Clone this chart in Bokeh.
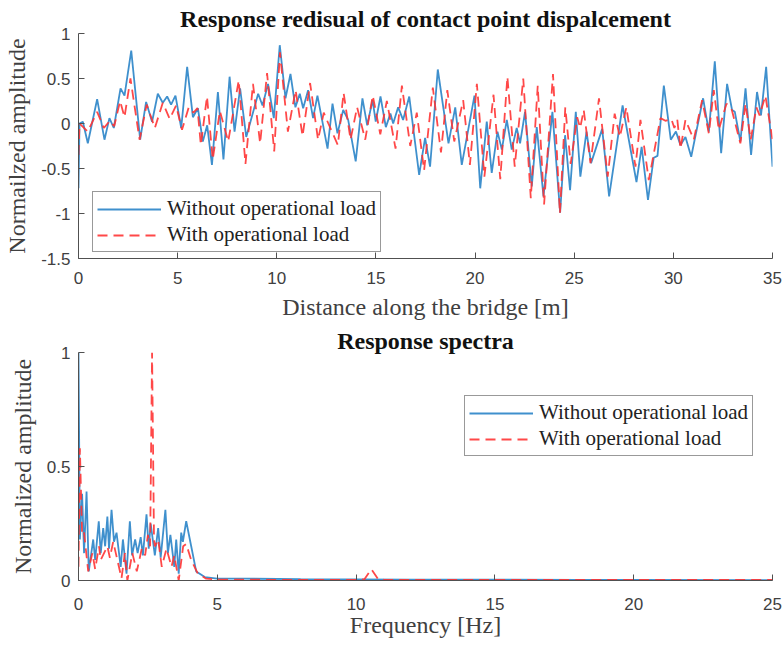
from bokeh.plotting import figure
from bokeh.layouts import column
from bokeh.models import Range1d, FixedTicker
from bokeh.embed import file_html
from bokeh.resources import INLINE

# ---------------- data: response residual (top) ----------------
dist_blue = [0, 0.05, 0.22, 0.47, 0.94, 1.31, 1.56, 1.78, 2.12, 2.32, 2.66, 3.11, 3.41, 3.71, 4.0, 4.25,
             4.47, 4.67, 4.89, 5.18, 5.48, 5.77, 6.02, 6.27, 6.49, 6.73, 7.03, 7.31, 7.62, 7.87, 8.15, 8.46,
             9.06, 9.28, 9.56, 9.85, 10.15, 10.44, 10.69, 10.94, 11.16, 11.33, 11.58, 11.83, 12.05, 12.56,
             12.81, 13.06, 13.35, 13.6, 13.98, 14.32, 14.56, 14.83, 14.99, 15.23, 15.5, 15.73, 15.87, 16.12,
             16.37, 16.68, 17.18, 17.48, 17.73, 18.12, 18.66, 19.0, 19.33, 19.97, 20.26, 20.59, 20.84, 21.13,
             21.35, 21.6, 21.85, 22.1, 22.27, 22.52, 22.86, 23.11, 23.45, 23.9, 24.29, 24.54, 24.79, 25.08,
             25.31, 25.62, 25.85, 26.41, 26.76, 27.44, 28.14, 28.4, 28.72, 29.01, 29.2, 29.52, 29.87, 30.13,
             30.36, 30.61, 30.9, 31.5, 31.79, 32.09, 32.41, 32.71, 32.96, 33.1, 33.38, 33.64, 33.92, 34.22,
             34.42, 34.68, 35.0]
resid_blue = [-0.72, 0.0, 0.02, -0.22, 0.27, -0.18, 0.06, -0.05, 0.39, 0.31, 0.81, -0.18, 0.24, 0.02, 0.33, 0.23,
              0.30, 0.21, 0.31, -0.05, 0.63, 0.07, 0.17, -0.20, -0.02, -0.46, 0.35, -0.40, 0.52, -0.09, 0.39, -0.15,
              0.33, 0.20, 0.44, 0.06, 0.87, 0.28, 0.55, 0.18, 0.33, 0.17, 0.37, 0.06, 0.31, -0.28,
              0.22, -0.11, 0.15, 0.04, -0.42, 0.28, -0.02, 0.26, 0.02, 0.30, -0.04, 0.11, 0.0, 0.18,
              0.04, 0.30, -0.57, -0.16, -0.48, 0.60, -0.22, 0.18, -0.46, 0.31, -0.72, 0.02, -0.55, -0.09,
              -0.29, 0.04, -0.29, -0.05, -0.22, 0.13, -0.70, -0.04, -0.81, 0.13, -0.99, -0.13, -0.74, 0.13,
              -0.59, -0.09, -0.44, -0.06, -0.81, 0.20, -0.65, -0.26, -0.85, -0.38, -0.36, 0.42, -0.18, -0.09,
              -0.24, -0.15, -0.37, 0.28, -0.09, 0.69, -0.33, 0.44, 0.15, 0.13, -0.20, 0.39, -0.35, 0.35,
              0.09, 0.63, -0.48]

dist_red = [0, 0.05, 0.47, 0.94, 1.28, 1.58, 1.8, 2.1, 2.32, 2.62, 3.08, 3.44, 3.85, 4.25, 4.6, 4.92, 5.22,
            5.56, 5.8, 6.0, 6.17, 6.48, 6.77, 7.13, 7.55, 8.08, 8.42, 8.8, 9.16, 9.51, 9.87, 10.16, 10.56,
            10.95, 11.3, 11.68, 12.08, 12.37, 12.6, 13.08, 13.37, 13.72, 14.05, 14.46, 14.84, 15.22, 15.55,
            15.99, 16.31, 16.73, 17.06, 17.43, 17.87, 18.28, 18.6, 18.95, 19.4, 19.74, 20.09, 20.47, 20.93,
            21.27, 21.63, 22.0, 22.43, 22.81, 23.16, 23.48, 23.93, 24.28, 24.55, 24.82, 25.15, 25.3, 25.48,
            25.82, 26.25, 26.69, 27.04, 27.3, 27.63, 28.09, 28.34, 28.76, 29.35, 29.6, 29.9, 30.05, 30.2,
            30.36, 30.61, 31.03, 31.45, 31.79, 32.04, 32.29, 32.68, 32.95, 33.38, 33.64, 33.9, 34.19, 34.35,
            34.64, 35.0]
resid_red = [-0.35, 0.0, -0.09, 0.13, -0.05, 0.03, -0.03, 0.25, 0.07, 0.50, -0.18, 0.21, -0.05, 0.23, 0.05, 0.20, -0.07,
             0.18, 0.12, 0.17, -0.24, 0.30, -0.40, 0.14, -0.20, 0.48, -0.45, 0.44, -0.22, 0.56, -0.31, 0.79, -0.09,
             0.37, -0.14, 0.45, -0.18, 0.12, 0.0, -0.24, 0.34, -0.18, 0.18, -0.18, 0.31, -0.12, 0.25,
             -0.28, 0.42, -0.25, 0.12, -0.52, 0.40, -0.32, 0.37, -0.20, 0.26, -0.46, 0.44, -0.59, 0.32,
             -0.62, 0.52, -0.48, 0.50, -0.83, 0.42, -0.90, 0.55, -1.0, 0.18, -0.45, 0.07, -0.05, 0.15,
             -0.44, 0.28, -0.59, 0.11, -0.15, 0.18, -0.48, 0.04, -0.63, 0.06, 0.03, 0.05, -0.05, 0.04,
             -0.28, 0.04, -0.18, 0.26, -0.11, 0.37, -0.07, 0.22, 0.15, -0.22, 0.22, -0.18, 0.18, 0.09,
             0.31, -0.18]

# ---------------- data: response spectra (bottom) ----------------
freq_blue = [0, 0.05, 0.13, 0.2, 0.29, 0.37, 0.53, 0.6, 0.73, 0.8, 0.89, 0.96, 1.04, 1.1, 1.19, 1.28, 1.37,
             1.52, 1.6, 1.73, 1.85, 1.93, 2.04, 2.13, 2.24, 2.32, 2.45, 2.53, 2.6, 2.75, 2.87, 2.96, 3.13,
             3.22, 3.31, 3.45, 3.52, 3.61, 3.7, 3.76, 3.88, 4.06, 4.24, 4.55, 5.0, 6.0, 8.0, 10.0, 12.0,
             15.0, 18.0, 20.0, 25.0]
spec_blue = [1.0, 0.18, 0.38, 0.12, 0.39, 0.04, 0.18, 0.09, 0.26, 0.12, 0.23, 0.15, 0.28, 0.14, 0.31, 0.17, 0.21,
             0.06, 0.18, 0.03, 0.26, 0.11, 0.18, 0.12, 0.19, 0.11, 0.29, 0.14, 0.25, 0.11, 0.23, 0.10, 0.31,
             0.12, 0.20, 0.06, 0.18, 0.03, 0.21, 0.17, 0.26, 0.15, 0.04, 0.015, 0.008, 0.008, 0.006, 0.005, 0.004,
             0.004, 0.003, 0.003, 0.002]

freq_red = [0, 0.05, 0.13, 0.2, 0.35, 0.5, 0.6, 0.74, 0.8, 1.04, 1.13, 1.25, 1.55, 1.67, 1.76, 1.94, 2.1,
            2.28, 2.4, 2.5, 2.58, 2.65, 2.72, 2.75, 2.87, 3.0, 3.17, 3.35, 3.45, 3.61, 3.77, 3.88, 4.06,
            4.3, 4.6, 5.0, 7.0, 10.0, 10.3, 10.55, 10.8, 11.0, 15.0, 20.0, 25.0]
spec_red = [0.06, 0.58, 0.2, 0.21, 0.04, 0.12, 0.05, 0.15, 0.09, 0.15, 0.10, 0.17, 0.01, 0.12, 0.0, 0.12, 0.04,
            0.14, 0.11, 0.20, 0.15, 1.0, 0.18, 0.15, 0.18, 0.06, 0.14, 0.06, 0.11, 0.0, 0.15, 0.16, 0.09,
            0.03, 0.008, 0.004, 0.003, 0.003, 0.005, 0.05, 0.005, 0.003, 0.003, 0.003, 0.003]

top_xticks = [0, 5, 10, 15, 20, 25, 30, 35]
top_yticks = [-1.5, -1, -0.5, 0, 0.5, 1]
top_ylabels = ["-1.5", "-1", "-0.5", "0", "0.5", "1"]
bot_xticks = [0, 5, 10, 15, 20, 25]
bot_yticks = [0, 0.5, 1]
bot_ylabels = ["0", "0.5", "1"]

label_without = "Without operational load"
label_with = "With operational load"

BLUE = "#2a84c8"
RED = "#ff3434"
AXIS = "#505050"
TXT = "#404040"


def style(p, xticks, yticks, ylabels, xlabel, ylabel, x_standoff, xl_standoff):
    p.grid.visible = False
    p.outline_line_color = None
    p.xaxis.ticker = FixedTicker(ticks=xticks)
    p.yaxis.ticker = FixedTicker(ticks=yticks)
    p.yaxis.major_label_overrides = {t: l for t, l in zip(yticks, ylabels)}
    p.xaxis.major_label_overrides = {t: str(t) for t in xticks}
    for ax in (p.xaxis[0], p.yaxis[0]):
        ax.axis_line_color = AXIS
        ax.axis_line_width = 1
        ax.major_tick_line_color = AXIS
        ax.major_tick_in = 6
        ax.major_tick_out = 0
        ax.minor_tick_line_color = None
        ax.major_label_text_font = "Liberation Sans"
        ax.major_label_text_font_size = "17px"
        ax.major_label_text_color = TXT
        ax.axis_label_text_font = "Liberation Serif"
        ax.axis_label_text_font_style = "normal"
        ax.axis_label_text_font_size = "24px"
        ax.axis_label_text_color = TXT
    p.xaxis.axis_label = xlabel
    p.yaxis.axis_label = ylabel
    p.xaxis.major_label_standoff = x_standoff
    p.xaxis.axis_label_standoff = xl_standoff
    p.yaxis.major_label_standoff = 8
    p.yaxis.axis_label_standoff = 8
    p.title.text_font = "Liberation Serif"
    p.title.text_font_style = "bold"
    p.title.text_font_size = "24px"
    p.title.align = "center"
    p.title.text_color = "#111111"


def style_legend(p, loc):
    lg = p.legend[0]
    lg.location = loc
    lg.label_text_font = "Liberation Serif"
    lg.label_text_font_size = "21px"
    lg.label_text_color = "#222222"
    lg.glyph_width = 64
    lg.glyph_height = 20
    lg.label_height = 20
    lg.label_standoff = 6
    lg.spacing = 1
    lg.padding = 4
    lg.margin = 0
    lg.border_line_color = "#333333"
    lg.border_line_width = 1
    lg.background_fill_color = "white"
    lg.background_fill_alpha = 1


# ---------------- top figure ----------------
p1 = figure(width=783, height=322, output_backend="svg", toolbar_location=None,
            title="Response redisual of contact point dispalcement",
            x_range=Range1d(0, 35), y_range=Range1d(-1.5, 1),
            min_border_left=78, min_border_right=11, min_border_top=33, min_border_bottom=63)
p1.line(dist_blue, resid_blue, line_color=BLUE, line_width=1.8, line_alpha=0.9, legend_label=label_without)
p1.line(dist_red, resid_red, line_color=RED, line_width=1.8, line_alpha=0.9, line_dash="10 6",
        legend_label=label_with)
style(p1, top_xticks, top_yticks, top_ylabels, "Distance along the bridge [m]", "Normailzed amplitude", 13, 7)
p1.title.standoff = 4
style_legend(p1, (14, 6))

# ---------------- bottom figure ----------------
p2 = figure(width=783, height=324, output_backend="svg", toolbar_location=None,
            title="Response spectra",
            x_range=Range1d(0, 25), y_range=Range1d(0, 1),
            min_border_left=77, min_border_right=11, min_border_top=30, min_border_bottom=66)
p2.line(freq_blue, spec_blue, line_color=BLUE, line_width=1.8, line_alpha=0.9, legend_label=label_without)
p2.line(freq_red, spec_red, line_color=RED, line_width=1.8, line_alpha=0.9, line_dash="10 6",
        legend_label=label_with)
style(p2, bot_xticks, bot_yticks, bot_ylabels, "Frequency [Hz]", "Normalized amplitude", 17, -1)
p2.title.standoff = -2
style_legend(p2, (386, 124))

layout = column(p1, p2, spacing=0)
open("out.html", "w").write(file_html(layout, INLINE))
